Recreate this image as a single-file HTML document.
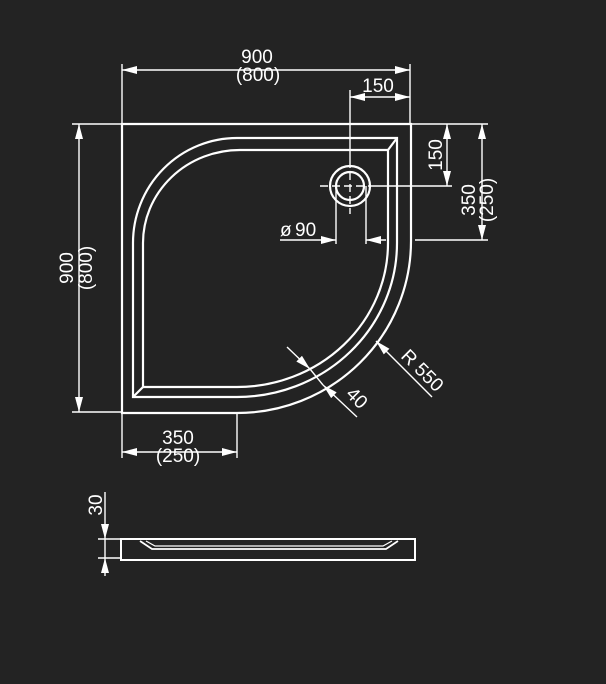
<!DOCTYPE html>
<html><head><meta charset="utf-8"><style>
html,body{margin:0;padding:0;background:#232323;}
svg{display:block}
text{font-family:"Liberation Sans",sans-serif;fill:#fff;font-size:19px;}
</style></head><body>
<svg width="606" height="684" viewBox="0 0 606 684">
<defs>
<marker id="a" viewBox="0 0 15 8" refX="15" refY="4" markerWidth="15" markerHeight="8" markerUnits="userSpaceOnUse" orient="auto-start-reverse"><path d="M0,0 L15,4 L0,8 Z" fill="#fff"/></marker>
</defs>
<rect width="606" height="684" fill="#232323"/>
<g stroke="#fff" fill="none" stroke-width="2.2">
<path d="M122,124 H411 V241 A174,172 0 0 1 237,413 H122 Z"/>
<path d="M237,138 H397 V243 A160,154 0 0 1 237,397 H133 V243 A104,105 0 0 1 237,138 Z"/>
<path d="M240,150 H388 V243 A151,144 0 0 1 237,387 H143 V243 A97,93 0 0 1 240,150 Z"/>
<line x1="397" y1="138" x2="388" y2="150"/>
<line x1="133" y1="397" x2="143" y2="387"/>
<circle cx="350" cy="186" r="20"/>
<circle cx="350" cy="186" r="14"/>
</g>
<g stroke="#fff" fill="none" stroke-width="1.4">
<line x1="350" y1="90" x2="350" y2="160" />
<line x1="350" y1="160" x2="350" y2="214" stroke-dasharray="8,4"/>
<line x1="320" y1="186" x2="370" y2="186" stroke-dasharray="8,4"/>
<line x1="370" y1="186" x2="452" y2="186"/>
<line x1="122" y1="64" x2="122" y2="124"/>
<line x1="410" y1="64" x2="410" y2="124"/>
<line x1="122" y1="70" x2="410" y2="70" marker-start="url(#a)" marker-end="url(#a)"/>
<line x1="350" y1="97" x2="410" y2="97" marker-start="url(#a)" marker-end="url(#a)"/>
<line x1="411" y1="124" x2="488" y2="124"/>
<line x1="415" y1="240" x2="488" y2="240"/>
<line x1="447" y1="124" x2="447" y2="186" marker-start="url(#a)" marker-end="url(#a)"/>
<line x1="482" y1="124" x2="482" y2="240" marker-start="url(#a)" marker-end="url(#a)"/>
<line x1="72" y1="124" x2="122" y2="124"/>
<line x1="72" y1="412" x2="122" y2="412"/>
<line x1="79" y1="124" x2="79" y2="412" marker-start="url(#a)" marker-end="url(#a)"/>
<line x1="122" y1="412" x2="122" y2="458"/>
<line x1="237" y1="412" x2="237" y2="458"/>
<line x1="122" y1="452" x2="237" y2="452" marker-start="url(#a)" marker-end="url(#a)"/>
<line x1="336" y1="186" x2="336" y2="244"/>
<line x1="366" y1="186" x2="366" y2="244"/>
<line x1="280" y1="240" x2="336" y2="240" marker-end="url(#a)"/>
<line x1="386" y1="240" x2="366" y2="240" marker-end="url(#a)"/>
<line x1="432" y1="397" x2="376" y2="341" marker-end="url(#a)"/>
<line x1="287" y1="347" x2="310" y2="369" marker-end="url(#a)"/>
<line x1="310" y1="369" x2="323" y2="385"/>
<line x1="357" y1="417" x2="323" y2="385" marker-end="url(#a)"/>
<rect x="121" y="539" width="294" height="21" stroke-width="2"/>
<path d="M140,541 L152,549 H386 L398,541" stroke-width="1.8"/>
<path d="M146,541 L155,546 H383 L392,541" stroke-width="1.2"/>
<line x1="98" y1="539" x2="120" y2="539"/>
<line x1="98" y1="558" x2="120" y2="558"/>
<line x1="105" y1="492" x2="105" y2="539" marker-end="url(#a)"/>
<line x1="105" y1="539" x2="105" y2="558"/>
<line x1="105" y1="576" x2="105" y2="558" marker-end="url(#a)"/>
</g>
<text x="257" y="63" text-anchor="middle">900</text>
<text x="258" y="81" text-anchor="middle">(800)</text>
<text x="378" y="92" text-anchor="middle">150</text>
<text x="178" y="444" text-anchor="middle">350</text>
<text x="178" y="462" text-anchor="middle">(250)</text>
<text x="280" y="236">ø</text><text x="295" y="236">90</text>
<text transform="translate(442,155) rotate(-90)" text-anchor="middle">150</text>
<text transform="translate(475,200) rotate(-90)" text-anchor="middle">350</text>
<text transform="translate(493,200) rotate(-90)" text-anchor="middle">(250)</text>
<text transform="translate(73,268) rotate(-90)" text-anchor="middle">900</text>
<text transform="translate(92,268) rotate(-90)" text-anchor="middle">(800)</text>
<text transform="translate(400,357) rotate(45)">R 550</text>
<text transform="translate(345,395) rotate(45)">40</text>
<text transform="translate(102,505) rotate(-90)" text-anchor="middle">30</text>
</svg>
</body></html>
